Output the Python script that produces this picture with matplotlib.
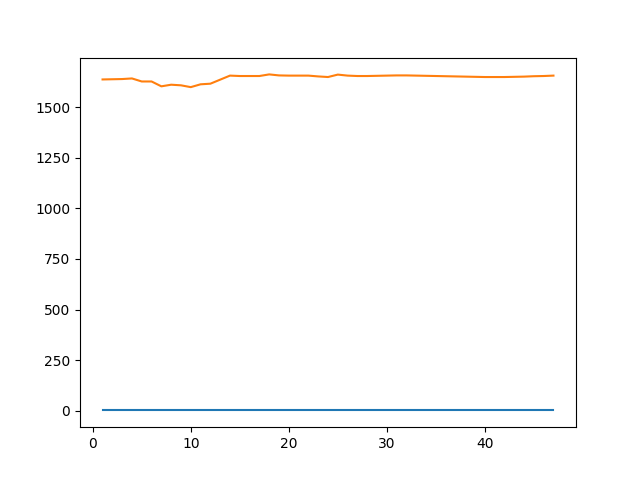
import numpy as np
import matplotlib
matplotlib.use("Agg")
import matplotlib.pyplot as plt

x = np.arange(1, 48)

# lower series, sits at about zero the whole way
low = [1] * 47

# upper series
high = [1638, 1639, 1640, 1643, 1628, 1628, 1604, 1612, 1609, 1600,
        1614, 1617, 1637, 1657, 1655, 1655, 1655, 1663, 1658, 1657,
        1657, 1657, 1653, 1650, 1662, 1657, 1655, 1655, 1656, 1657,
        1658, 1658, 1657, 1656, 1655, 1654, 1653, 1652, 1651, 1650,
        1650, 1650, 1651, 1652, 1654, 1655, 1657]

fig = plt.figure(figsize=(6.4, 4.8), dpi=100)
plt.plot(x, low)
plt.plot(x, high)
plt.savefig("out.png")
